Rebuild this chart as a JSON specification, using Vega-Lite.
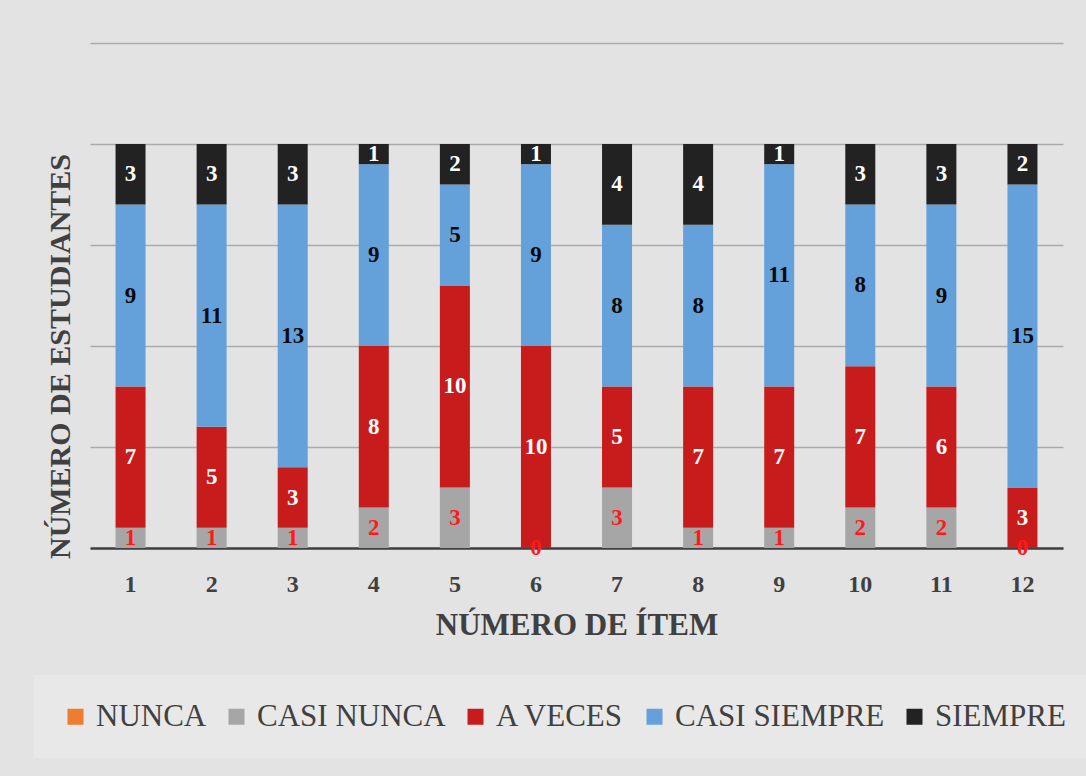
{
  "$schema": "https://vega.github.io/schema/vega-lite/v6.json",
  "width": 973,
  "height": 505,
  "autosize": {"type": "none"},
  "padding": {"left": 90, "top": 43, "right": 23, "bottom": 228},
  "background": "#e3e3e3",
  "data": {"values": [
    {"item": 1, "cat": "NUNCA", "escala": 1, "n": 0}, {"item": 1, "cat": "CASI NUNCA", "escala": 2, "n": 1}, {"item": 1, "cat": "A VECES", "escala": 3, "n": 7}, {"item": 1, "cat": "CASI SIEMPRE", "escala": 4, "n": 9}, {"item": 1, "cat": "SIEMPRE", "escala": 5, "n": 3},
    {"item": 2, "cat": "NUNCA", "escala": 1, "n": 0}, {"item": 2, "cat": "CASI NUNCA", "escala": 2, "n": 1}, {"item": 2, "cat": "A VECES", "escala": 3, "n": 5}, {"item": 2, "cat": "CASI SIEMPRE", "escala": 4, "n": 11}, {"item": 2, "cat": "SIEMPRE", "escala": 5, "n": 3},
    {"item": 3, "cat": "NUNCA", "escala": 1, "n": 0}, {"item": 3, "cat": "CASI NUNCA", "escala": 2, "n": 1}, {"item": 3, "cat": "A VECES", "escala": 3, "n": 3}, {"item": 3, "cat": "CASI SIEMPRE", "escala": 4, "n": 13}, {"item": 3, "cat": "SIEMPRE", "escala": 5, "n": 3},
    {"item": 4, "cat": "NUNCA", "escala": 1, "n": 0}, {"item": 4, "cat": "CASI NUNCA", "escala": 2, "n": 2}, {"item": 4, "cat": "A VECES", "escala": 3, "n": 8}, {"item": 4, "cat": "CASI SIEMPRE", "escala": 4, "n": 9}, {"item": 4, "cat": "SIEMPRE", "escala": 5, "n": 1},
    {"item": 5, "cat": "NUNCA", "escala": 1, "n": 0}, {"item": 5, "cat": "CASI NUNCA", "escala": 2, "n": 3}, {"item": 5, "cat": "A VECES", "escala": 3, "n": 10}, {"item": 5, "cat": "CASI SIEMPRE", "escala": 4, "n": 5}, {"item": 5, "cat": "SIEMPRE", "escala": 5, "n": 2},
    {"item": 6, "cat": "NUNCA", "escala": 1, "n": 0}, {"item": 6, "cat": "CASI NUNCA", "escala": 2, "n": 0}, {"item": 6, "cat": "A VECES", "escala": 3, "n": 10}, {"item": 6, "cat": "CASI SIEMPRE", "escala": 4, "n": 9}, {"item": 6, "cat": "SIEMPRE", "escala": 5, "n": 1},
    {"item": 7, "cat": "NUNCA", "escala": 1, "n": 0}, {"item": 7, "cat": "CASI NUNCA", "escala": 2, "n": 3}, {"item": 7, "cat": "A VECES", "escala": 3, "n": 5}, {"item": 7, "cat": "CASI SIEMPRE", "escala": 4, "n": 8}, {"item": 7, "cat": "SIEMPRE", "escala": 5, "n": 4},
    {"item": 8, "cat": "NUNCA", "escala": 1, "n": 0}, {"item": 8, "cat": "CASI NUNCA", "escala": 2, "n": 1}, {"item": 8, "cat": "A VECES", "escala": 3, "n": 7}, {"item": 8, "cat": "CASI SIEMPRE", "escala": 4, "n": 8}, {"item": 8, "cat": "SIEMPRE", "escala": 5, "n": 4},
    {"item": 9, "cat": "NUNCA", "escala": 1, "n": 0}, {"item": 9, "cat": "CASI NUNCA", "escala": 2, "n": 1}, {"item": 9, "cat": "A VECES", "escala": 3, "n": 7}, {"item": 9, "cat": "CASI SIEMPRE", "escala": 4, "n": 11}, {"item": 9, "cat": "SIEMPRE", "escala": 5, "n": 1},
    {"item": 10, "cat": "NUNCA", "escala": 1, "n": 0}, {"item": 10, "cat": "CASI NUNCA", "escala": 2, "n": 2}, {"item": 10, "cat": "A VECES", "escala": 3, "n": 7}, {"item": 10, "cat": "CASI SIEMPRE", "escala": 4, "n": 8}, {"item": 10, "cat": "SIEMPRE", "escala": 5, "n": 3},
    {"item": 11, "cat": "NUNCA", "escala": 1, "n": 0}, {"item": 11, "cat": "CASI NUNCA", "escala": 2, "n": 2}, {"item": 11, "cat": "A VECES", "escala": 3, "n": 6}, {"item": 11, "cat": "CASI SIEMPRE", "escala": 4, "n": 9}, {"item": 11, "cat": "SIEMPRE", "escala": 5, "n": 3},
    {"item": 12, "cat": "NUNCA", "escala": 1, "n": 0}, {"item": 12, "cat": "CASI NUNCA", "escala": 2, "n": 0}, {"item": 12, "cat": "A VECES", "escala": 3, "n": 3}, {"item": 12, "cat": "CASI SIEMPRE", "escala": 4, "n": 15}, {"item": 12, "cat": "SIEMPRE", "escala": 5, "n": 2}
  ]},
  "encoding": {
    "x": {
      "field": "item",
      "type": "ordinal",
      "scale": {"paddingInner": 0.63, "paddingOuter": 0.315},
      "axis": {
        "title": "NÚMERO DE ÍTEM",
        "titleFont": "Liberation Serif",
        "titleFontSize": 31,
        "titleFontWeight": "bold",
        "titleColor": "#404040",
        "titleY": 77,
        "titleBaseline": "middle",
        "labelFont": "Liberation Serif",
        "labelFontSize": 24,
        "labelFontWeight": "bold",
        "labelColor": "#404040",
        "labelAngle": 0,
        "labelPadding": 36,
        "labelBaseline": "middle",
        "ticks": false,
        "tickSize": 0,
        "grid": false,
        "domainColor": "#404040",
        "domainWidth": 2.5
      }
    }
  },
  "layer": [
    {
      "mark": {"type": "bar"},
      "encoding": {
        "y": {
          "field": "n",
          "type": "quantitative",
          "stack": "zero",
          "scale": {"domain": [0, 25], "nice": false, "zero": true},
          "axis": {
            "title": "NÚMERO DE ESTUDIANTES",
            "titleFont": "Liberation Serif",
            "titleFontSize": 30,
            "titleFontWeight": "bold",
            "titleColor": "#404040",
            "titleX": -30,
            "titleY": 313,
            "titleBaseline": "middle",
            "labels": false,
            "ticks": false,
            "tickSize": 0,
            "domain": false,
            "grid": true,
            "gridColor": "#ababab",
            "gridWidth": 1.5,
            "values": [0, 5, 10, 15, 20, 25]
          }
        },
        "order": {"field": "escala", "type": "quantitative"},
        "color": {
          "field": "cat",
          "type": "nominal",
          "scale": {
            "domain": ["NUNCA", "CASI NUNCA", "A VECES", "CASI SIEMPRE", "SIEMPRE"],
            "range": ["#ed7d31", "#a6a6a6", "#c81c1c", "#64a1da", "#222222"]
          },
          "legend": {
            "title": null,
            "orient": "none",
            "legendX": -56,
            "legendY": 632,
            "direction": "horizontal",
            "padding": 26,
            "fillColor": "#e8e8e8",
            "symbolType": "square",
            "symbolSize": 256,
            "symbolStrokeWidth": 0,
            "labelFont": "Liberation Serif",
            "labelFontSize": 31,
            "labelColor": "#404040",
            "labelOffset": 5,
            "labelLimit": 400,
            "columnPadding": 14
          }
        }
      }
    },
    {
      "transform": [{"filter": "datum.cat !== 'NUNCA'"}],
      "mark": {"type": "text", "font": "Liberation Serif", "fontSize": 23, "fontWeight": "bold", "baseline": "middle", "align": "center"},
      "encoding": {
        "y": {"field": "n", "type": "quantitative", "stack": "zero", "bandPosition": 0.5, "scale": {"domain": [0, 25], "nice": false, "zero": true}},
        "order": {"field": "escala", "type": "quantitative"},
        "text": {"field": "n", "type": "quantitative"},
        "fill": {
          "condition": [
            {"test": "datum.cat === 'CASI NUNCA'", "value": "#ff1a1a"},
            {"test": "datum.cat === 'CASI SIEMPRE'", "value": "#0a0a0a"}
          ],
          "value": "#ffffff"
        }
      }
    }
  ],
  "config": {"view": {"stroke": null}}
}
